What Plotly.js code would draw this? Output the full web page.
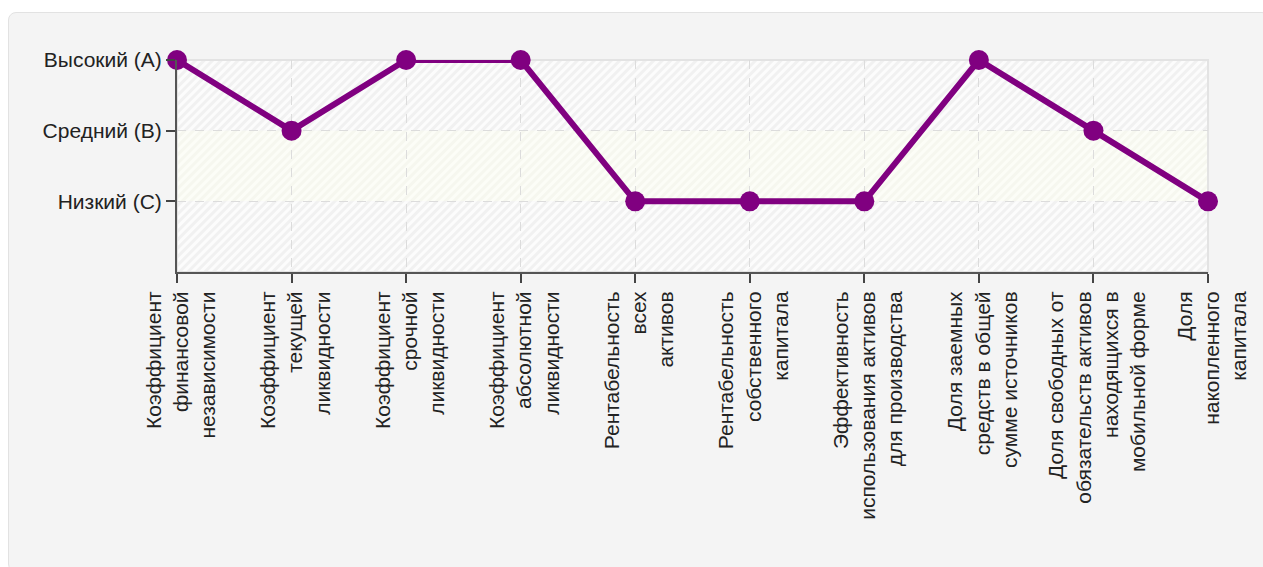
<!DOCTYPE html>
<html>
<head>
<meta charset="utf-8">
<script src="https://cdn.plot.ly/plotly-3.0.1.min.js"></script>
<style>
  html, body { margin: 0; padding: 0; background: #ffffff; }
  #panel { position: absolute; left: 8px; top: 12px; width: 1262px; height: 560px;
           background: #f4f4f4; border: 1px solid #e2e2e2; border-radius: 8px; box-sizing: border-box; }
  #chart { position: absolute; left: 0; top: 0; width: 1263px; height: 567px; }
</style>
</head>
<body>
<div id="panel"></div>
<div id="chart"></div>
<script>
// ---- data ----
const indicators = [
  "Коэффициент<br>финансовой<br>независимости",
  "Коэффициент<br>текущей<br>ликвидности",
  "Коэффициент<br>срочной<br>ликвидности",
  "Коэффициент<br>абсолютной<br>ликвидности",
  "Рентабельность<br>всех<br>активов",
  "Рентабельность<br>собственного<br>капитала",
  "Эффективность<br>использования активов<br>для производства",
  "Доля заемных<br>средств в общей<br>сумме источников",
  "Доля свободных от<br>обязательств активов<br>находящихся в<br>мобильной форме",
  "Доля<br>накопленного<br>капитала"
];
const levelValues = [3, 2, 3, 3, 1, 1, 1, 3, 2, 1];
const levelTickVals = [1, 2, 3];
const levelTickText = ["Низкий (C)", "Средний (B)", "Высокий (A)"];

// ---- layout constants ----
const W = 1263, H = 567;
const M = { l: 177, r: 55, t: 60, b: 295 };
const pw = W - M.l - M.r, ph = H - M.t - M.b;
const band = ph / 3;

const svg =
  `<svg xmlns="http://www.w3.org/2000/svg" width="${pw}" height="${ph}" viewBox="0 0 ${pw} ${ph}">` +
  `<defs>` +
  `<pattern id="h1" width="6" height="6" patternUnits="userSpaceOnUse" patternTransform="rotate(45)">` +
  `<rect width="6" height="6" fill="#fcfcfc"/><rect width="3" height="6" fill="#f1f1f1"/></pattern>` +
  `<pattern id="h2" width="6" height="6" patternUnits="userSpaceOnUse" patternTransform="rotate(45)">` +
  `<rect width="6" height="6" fill="#fcfdf7"/><rect width="3" height="6" fill="#f6f7ef"/></pattern>` +
  `</defs>` +
  `<rect x="0" y="0" width="${pw}" height="${band}" fill="url(#h1)"/>` +
  `<rect x="0" y="${band}" width="${pw}" height="${band}" fill="url(#h2)"/>` +
  `<rect x="0" y="${2*band}" width="${pw}" height="${ph - 2*band}" fill="url(#h1)"/>` +
  `</svg>`;
const bgImg = "data:image/svg+xml;base64," + btoa(svg);

const FONT = "Liberation Sans, Arial, sans-serif";

const trace = {
  type: "scatter",
  mode: "lines+markers",
  x: indicators,
  y: levelValues,
  line: { color: "#800080", width: 6 },
  marker: { color: "#800080", size: 20 },
  cliponaxis: false,
  hoverinfo: "skip"
};

const layout = {
  width: W, height: H,
  margin: M,
  paper_bgcolor: "rgba(0,0,0,0)",
  plot_bgcolor: "rgba(0,0,0,0)",
  showlegend: false,
  font: { family: FONT, size: 21, color: "#222222" },
  xaxis: {
    type: "category",
    range: [0, indicators.length - 1],
    tickangle: -90,
    ticks: "outside", ticklen: 9, tickcolor: "#444444", tickwidth: 2,
    ticklabelshift: 4,
    showline: true, linecolor: "#555555", linewidth: 2,
    showgrid: true, gridcolor: "#dcdcdc", griddash: "dash", gridwidth: 1,
    tickfont: { family: FONT, size: 21, color: "#222222" },
    fixedrange: true, automargin: false
  },
  yaxis: {
    range: [0, 3],
    tickvals: levelTickVals,
    ticktext: levelTickText,
    ticks: "outside", ticklen: 9, tickcolor: "#444444", tickwidth: 2,
    showline: true, linecolor: "#555555", linewidth: 2,
    showgrid: true, gridcolor: "#dcdcdc", griddash: "dash", gridwidth: 1,
    zeroline: false,
    tickfont: { family: FONT, size: 21, color: "#222222" },
    fixedrange: true, automargin: false
  },
  images: [{
    source: bgImg, xref: "paper", yref: "paper",
    x: 0, y: 1, sizex: 1, sizey: 1, sizing: "stretch",
    xanchor: "left", yanchor: "top", layer: "below"
  }],
  shapes: [{
    type: "rect", xref: "paper", yref: "paper", x0: 0, x1: 1, y0: 0, y1: 1,
    line: { color: "#e3e3e3", width: 2 }, layer: "below"
  }]
};

Plotly.newPlot("chart", [trace], layout, { displayModeBar: false, staticPlot: true });
</script>
</body>
</html>
